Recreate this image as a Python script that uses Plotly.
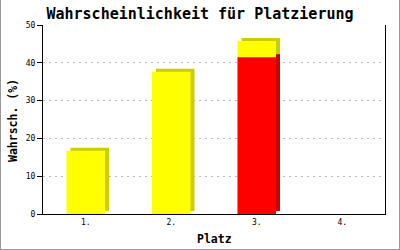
import plotly.graph_objects as go

categories = ["1.", "2.", "3.", "4."]
total_values = [16.7, 37.6, 45.8, 0]
red_values = [0, 0, 41.5, 0]
y_tick_vals = [0, 10, 20, 30, 40, 50]

# geometry (pixels) of the plot area
L, R, T, B = 43, 385, 25, 214
W, H = R - L, B - T
bar_w = 0.45
dx = 4 / (W / 4)          # depth in category units
dy = 3 * 50 / H           # depth in value units

font = "DejaVu Sans Mono"

fig = go.Figure()
common = dict(x=categories, width=bar_w, marker_line_width=0, hoverinfo="skip", showlegend=False)
fig.add_trace(go.Bar(y=total_values, base=dy, offset=-bar_w / 2 + dx, marker_color="#cccc00", **common))
fig.add_trace(go.Bar(y=red_values, base=dy, offset=-bar_w / 2 + dx, marker_color="#c80000", **common))
fig.add_trace(go.Bar(y=total_values, base=0, offset=-bar_w / 2, marker_color="#ffff00", **common))
fig.add_trace(go.Bar(y=red_values, base=0, offset=-bar_w / 2, marker_color="#ff0000", **common))

fig.update_layout(
    width=400, height=250,
    margin=dict(l=L, r=400 - R, t=T, b=250 - B, pad=0),
    paper_bgcolor="white", plot_bgcolor="white",
    barmode="overlay",
    title=dict(text="<b>Wahrscheinlichkeit für Platzierung</b>", x=0.5, xref="container",
               y=1 - 14 / 250, yref="container", yanchor="middle", xanchor="center",
               font=dict(family=font, size=15, color="black")),
    xaxis=dict(range=[-0.5, 3.5], showline=True, linecolor="black", linewidth=1,
               ticks="", showgrid=False, zeroline=False,
               tickfont=dict(family=font, size=8, color="black")),
    yaxis=dict(range=[0, 50], tickvals=y_tick_vals, showline=True, linecolor="black", linewidth=1,
               mirror=True, ticks="outside", ticklen=5, tickcolor="black",
               showgrid=True, gridcolor="#bbbbbb", griddash="2px,4px", zeroline=False,
               tickfont=dict(family=font, size=8, color="black")),
    annotations=[
        dict(text="<b>Wahrsch. (%)</b>", xref="paper", yref="paper",
             x=(13 - L) / W, y=(B - 121) / H, textangle=-90, showarrow=False,
             xanchor="center", yanchor="middle",
             font=dict(family=font, size=11.5, color="black")),
        dict(text="<b>Platz</b>", xref="paper", yref="paper",
             x=(214 - L) / W, y=(B - 239) / H, showarrow=False,
             xanchor="center", yanchor="middle",
             font=dict(family=font, size=11.5, color="black")),
    ],
    shapes=[
        dict(type="line", xref="paper", yref="paper", x0=(0.5 - L) / W, x1=(0.5 - L) / W,
             y0=(B - 250) / H, y1=(B + 5) / H, line=dict(color="#999999", width=1)),
        dict(type="line", xref="paper", yref="paper", x0=(399.5 - L) / W, x1=(399.5 - L) / W,
             y0=(B - 250) / H, y1=(B + 5) / H, line=dict(color="#999999", width=1)),
        dict(type="line", xref="paper", yref="paper", x0=(-5 - L) / W, x1=(405 - L) / W,
             y0=(B - 249.5) / H, y1=(B - 249.5) / H, line=dict(color="#999999", width=1)),
    ],
)

fig.write_html("out.html")
